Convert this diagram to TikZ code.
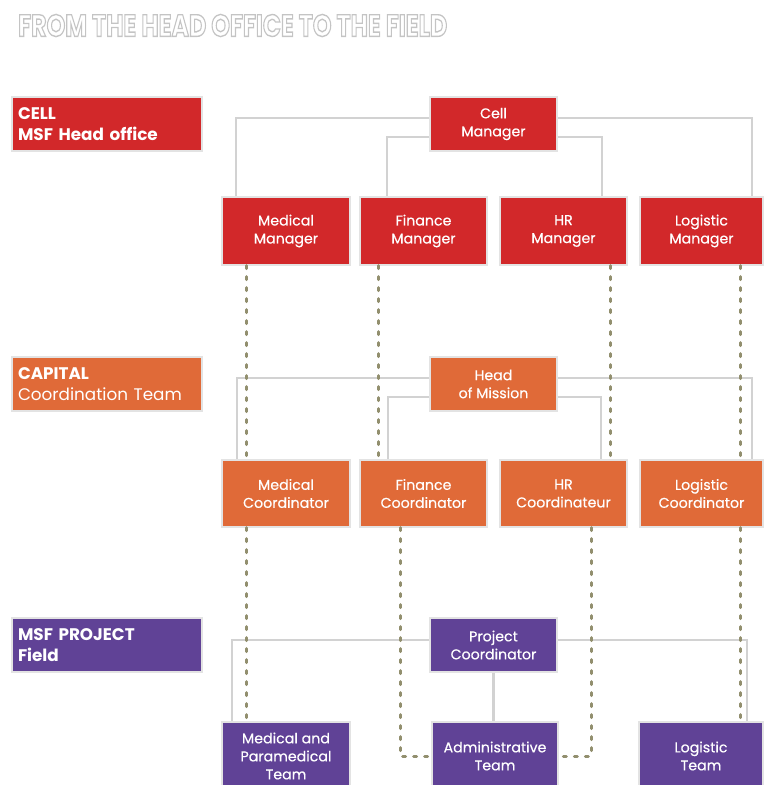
\documentclass[tikz,border=0pt]{standalone}
\usepackage{fontspec}
\setmainfont{Poppins}
\newfontfamily\unitfont[FakeBold=0.4]{Poppins}
\usepackage{graphicx}
\usetikzlibrary{calc}

\definecolor{cellred}{RGB}{210,40,42}
\definecolor{caporange}{RGB}{224,106,56}
\definecolor{projpurple}{RGB}{96,66,150}
\definecolor{linkgray}{RGB}{210,210,210}
\definecolor{dotolive}{RGB}{146,143,110}
\definecolor{titlegray}{RGB}{196,196,196}

\tikzset{
  unit/.style={rectangle, draw=gray!22, line width=1.2pt, text=white,
    align=center, inner sep=2pt, font=\unitfont\fontsize{14.2}{18}\selectfont},
  header/.style={rectangle, draw=gray!22, line width=1.2pt, text=white,
    minimum width=190pt, minimum height=54pt, text width=178pt, align=left,
    inner sep=0pt, font=\bfseries\fontsize{16.8}{21.5}\selectfont},
  link/.style={draw=linkgray, line width=2.2pt},
  dotted link/.style={draw=dotolive, line width=3pt, line cap=round,
    dash pattern=on 3pt off 8pt}
}

% outlined (hollow) lettering
\newcommand{\hollowtext}[1]{\special{pdf:literal 1 Tr 0.45 w}#1\special{pdf:literal 0 Tr}}

\begin{document}
\begin{tikzpicture}[x=1pt,y=-1pt]
\useasboundingbox (0,0) rectangle (765,785);

% title
\node[anchor=west, inner sep=0pt, text=titlegray] (title) at (18,25.5)
  {\resizebox{429pt}{22pt}{\bfseries\hollowtext{FROM THE HEAD OFFICE TO THE FIELD}}};

% level headers
\node[header, fill=cellred] (hcell) at (107,124) {CELL\\MSF Head office};
\node[header, fill=caporange] (hcap) at (107,384) {CAPITAL\\\mdseries Coordination Team};
\node[header, fill=projpurple] (hproj) at (107,645) {MSF PROJECT\\Field};

% head office
\node[unit, fill=cellred, minimum width=127pt, minimum height=54pt] (cm) at (493.5,124) {Cell\\Manager};
\node[unit, fill=cellred, minimum width=128pt, minimum height=68pt] (mm) at (286,231) {Medical\\Manager};
\node[unit, fill=cellred, minimum width=127pt, minimum height=68pt] (fm) at (423.5,231) {Finance\\Manager};
\node[unit, fill=cellred, minimum width=127pt, minimum height=68pt] (hm) at (563.5,231) {HR\\Manager};
\node[unit, fill=cellred, minimum width=123pt, minimum height=68pt] (lm) at (701.5,231) {Logistic\\Manager};

% capital coordination
\node[unit, fill=caporange, minimum width=127pt, minimum height=54pt] (hom) at (493.5,384) {Head\\of Mission};
\node[unit, fill=caporange, minimum width=128pt, minimum height=67pt] (mc) at (286,493.5) {Medical\\Coordinator};
\node[unit, fill=caporange, minimum width=127pt, minimum height=67pt] (fc) at (423.5,493.5) {Finance\\Coordinator};
\node[unit, fill=caporange, minimum width=127pt, minimum height=67pt] (hc) at (563.5,493.5) {HR\\Coordinateur};
\node[unit, fill=caporange, minimum width=123pt, minimum height=67pt] (lc) at (701.5,493.5) {Logistic\\Coordinator};

% project field
\node[unit, fill=projpurple, minimum width=127pt, minimum height=54pt] (pc) at (493.5,645) {Project\\Coordinator};
\node[unit, fill=projpurple, minimum width=128pt, minimum height=68pt] (mt) at (286,756) {Medical and\\Paramedical\\Team};
\node[unit, fill=projpurple, minimum width=126pt, minimum height=68pt] (at) at (495,756) {Administrative\\Team};
\node[unit, fill=projpurple, minimum width=124pt, minimum height=68pt] (lt) at (701,756) {Logistic\\Team};

% hierarchy links
\draw[link] ([yshift=6pt]cm.west) -| ([xshift=-50pt]mm.north);
\draw[link] ([yshift=6pt]cm.east) -| ([xshift=50.5pt]lm.north);
\draw[link] ([yshift=-13pt]cm.west) -| ([xshift=-36.5pt]fm.north);
\draw[link] ([yshift=-13pt]cm.east) -| ([xshift=38.5pt]hm.north);

\draw[link] ([yshift=6pt]hom.west) -| ([xshift=-49pt]mc.north);
\draw[link] ([yshift=6pt]hom.east) -| ([xshift=50.5pt]lc.north);
\draw[link] ([yshift=-13pt]hom.west) -| ([xshift=-35.5pt]fc.north);
\draw[link] ([yshift=-13pt]hom.east) -| ([xshift=37.5pt]hc.north);

\draw[link] ([yshift=5pt]pc.west) -| ([xshift=-54pt]mt.north);
\draw[link] ([yshift=5pt]pc.east) -| ([xshift=46pt]lt.north);
\draw[link] (pc.south) -- (pc.south |- at.north);

% functional (dotted) links
\draw[dotted link] ([xshift=-40pt]mm.south) -- ([xshift=-40pt]mc.north);
\draw[dotted link] ([xshift=-45.5pt]fm.south) -- ([xshift=-45.5pt]fc.north);
\draw[dotted link] ([xshift=46.5pt]hm.south) -- ([xshift=46.5pt]hc.north);
\draw[dotted link] ([xshift=38.5pt]lm.south) -- ([xshift=38.5pt]lc.north);

\draw[dotted link] ([xshift=-40pt]mc.south) -- ([xshift=-40pt]mt.north);
\draw[dotted link] ([xshift=-23.5pt]fc.south) |- (at.west);
\draw[dotted link] ([xshift=27.5pt]hc.south) |- (at.east);
\draw[dotted link] ([xshift=38.5pt]lc.south) -- ([xshift=39pt]lt.north);
\end{tikzpicture}
\end{document}
